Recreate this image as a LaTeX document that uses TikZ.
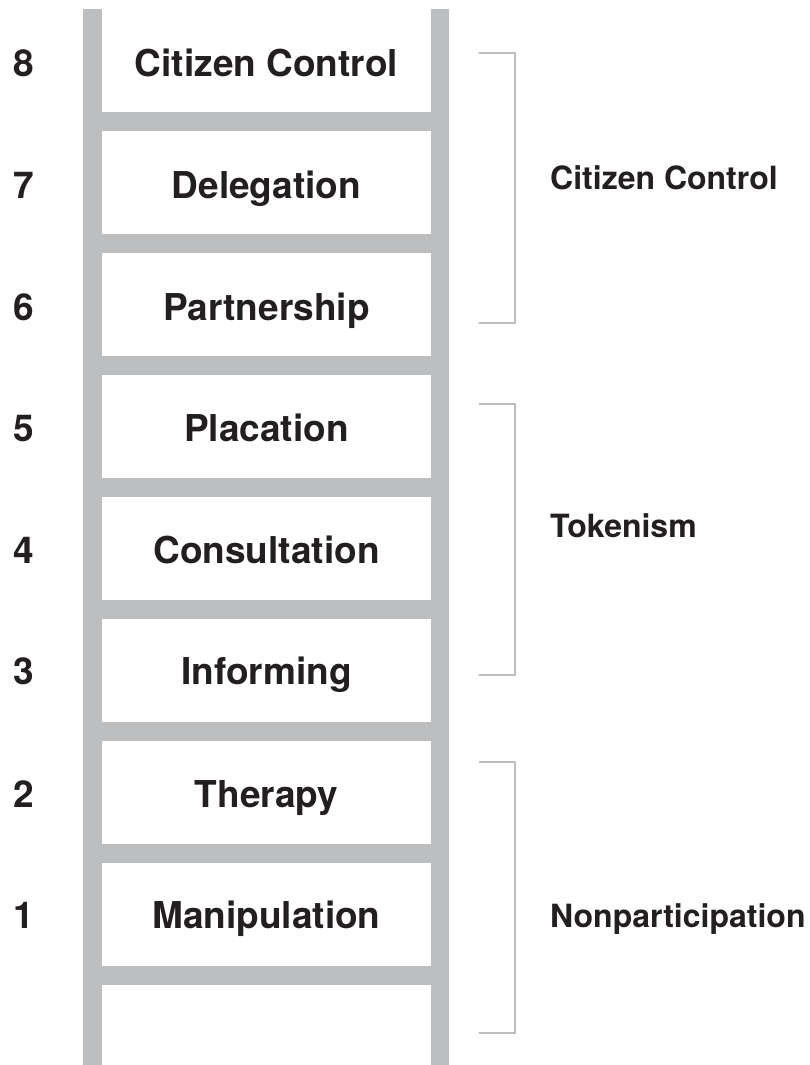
\documentclass[tikz,border=0pt]{standalone}
\usepackage{fontspec}
\setmainfont{TeX Gyre Heros}
\usepackage{tikz}
\usepackage{xcolor}
\usetikzlibrary{positioning}
\definecolor{railgray}{HTML}{BCBEC0}
\definecolor{inkblack}{HTML}{231F20}
\tikzstyle{rail} = [fill=railgray, draw=none]
\tikzstyle{rungtext} = [anchor=base, inner sep=0pt, text=inkblack, font=\fontsize{37}{40}\selectfont\bfseries]
\tikzstyle{levelnum} = [anchor=base, inner sep=0pt, text=inkblack, font=\fontsize{37}{40}\selectfont\bfseries]
\tikzstyle{grouplabel} = [anchor=base west, inner sep=0pt, text=inkblack, font=\fontsize{32}{36}\selectfont\bfseries]
\tikzstyle{bracket} = [draw=railgray, line width=2pt]

\begin{document}
\begin{tikzpicture}[x=1pt, y=-1pt]
    % Page frame
    \fill[white] (0,0) rectangle (809,1065);
    \useasboundingbox (0,0) rectangle (809,1065);

    % Ladder rails
    \fill[rail] (83,9) rectangle (102,1065);
    \fill[rail] (431,9) rectangle (449,1065);

    % Ladder rungs
    \fill[rail] (102,112) rectangle (431,131);
    \fill[rail] (102,234) rectangle (431,253);
    \fill[rail] (102,356) rectangle (431,375);
    \fill[rail] (102,478) rectangle (431,497);
    \fill[rail] (102,600) rectangle (431,619);
    \fill[rail] (102,722) rectangle (431,741);
    \fill[rail] (102,844) rectangle (431,863);
    \fill[rail] (102,966) rectangle (431,985);

    % Rung labels
    \node (control) [rungtext] at (266.5,76) {Citizen Control};
    \node (delegation) [rungtext] at (266.5,198) {Delegation};
    \node (partnership) [rungtext] at (266.5,320) {Partnership};
    \node (placation) [rungtext] at (266.5,441) {Placation};
    \node (consultation) [rungtext] at (266.5,563) {Consultation};
    \node (informing) [rungtext] at (266.5,684) {Informing};
    \node (therapy) [rungtext] at (266.5,807) {Therapy};
    \node (manipulation) [rungtext] at (266.5,928) {Manipulation};

    % Level numbers
    \node (num8) [levelnum] at (24,76) {8};
    \node (num7) [levelnum] at (24,198) {7};
    \node (num6) [levelnum] at (24,320) {6};
    \node (num5) [levelnum] at (24,441) {5};
    \node (num4) [levelnum] at (24,563) {4};
    \node (num3) [levelnum] at (24,684) {3};
    \node (num2) [levelnum] at (24,807) {2};
    \node (num1) [levelnum] at (24,928) {1};

    % Group brackets
    \draw[bracket] (479,53) -- (515,53) -- (515,323) -- (479,323);
    \draw[bracket] (479,404) -- (515,404) -- (515,675) -- (479,675);
    \draw[bracket] (479,762) -- (515,762) -- (515,1033) -- (479,1033);

    % Group labels
    \node (powergroup) [grouplabel] at (550,189) {Citizen Control};
    \node (tokengroup) [grouplabel] at (550,537) {Tokenism};
    \node (nongroup) [grouplabel] at (550,927) {Nonparticipation};
\end{tikzpicture}
\end{document}
